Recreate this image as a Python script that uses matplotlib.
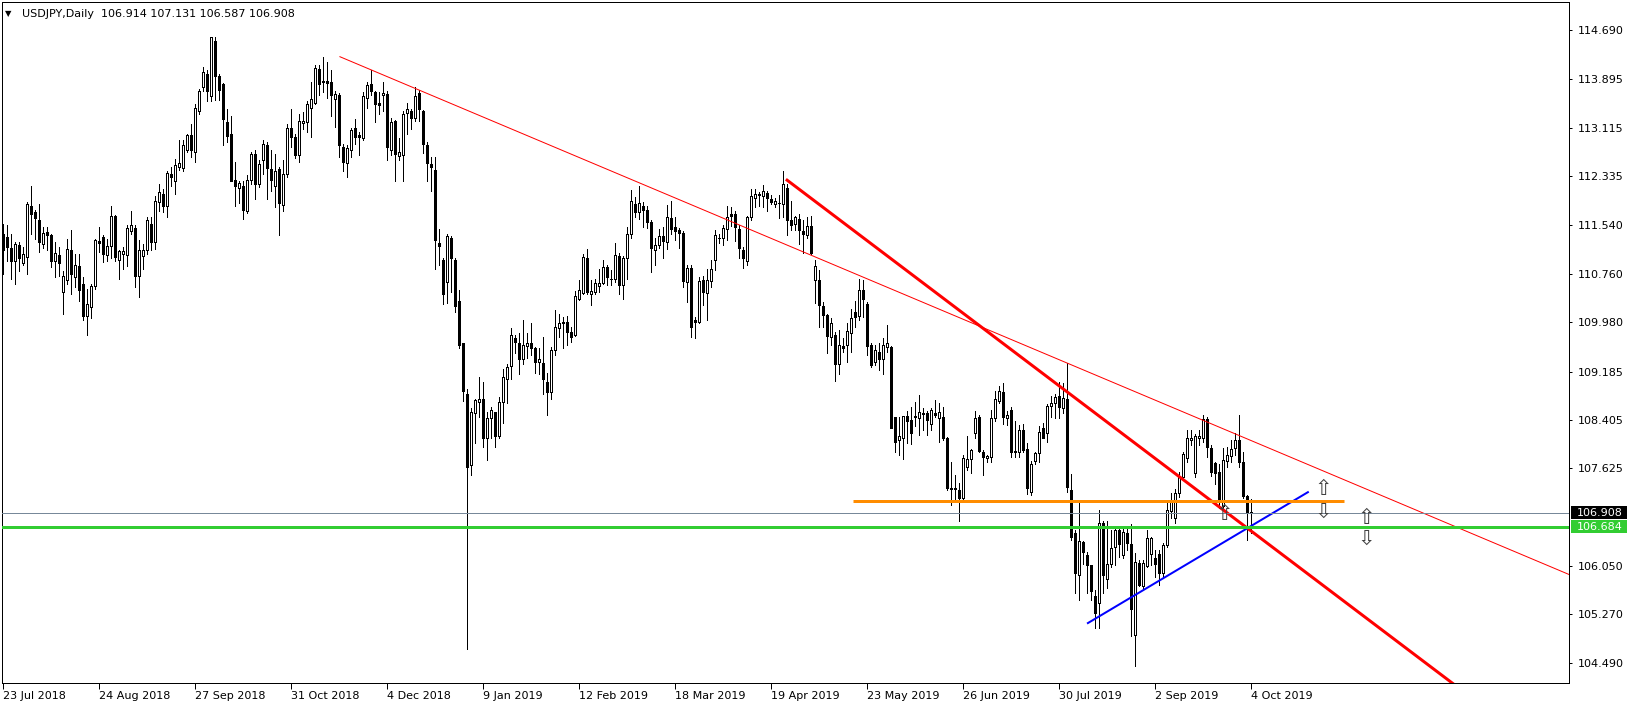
import numpy as np
import matplotlib
matplotlib.use("Agg")
import matplotlib.pyplot as plt
from matplotlib.patches import Rectangle
from matplotlib.transforms import blended_transform_factory

plt.rcParams["font.family"] = "DejaVu Sans"

# daily USDJPY bars, bar 0 = 23 Jul 2018, last bar = 4 Oct 2019
opens = [
    111.41, 111.36, 111.18, 110.97, 111.23, 110.93, 111.03, 111.85, 111.75, 111.63,
    111.24, 111.43, 111.39, 110.97, 111.07, 110.47, 110.66, 111.15, 110.71, 110.89,
    110.60, 110.08, 110.22, 110.57, 111.29, 111.35, 111.07, 111.21, 111.70, 110.99,
    111.08, 111.07, 111.45, 111.50, 110.72, 111.04, 111.14, 111.57, 111.27, 111.91,
    112.04, 111.85, 112.37, 112.25, 112.49, 112.46, 112.76, 113.00, 112.72, 113.38,
    113.77, 113.98, 113.63, 114.52, 113.95, 113.82, 113.21, 113.01, 112.27, 112.14,
    112.17, 111.78, 112.27, 112.69, 112.21, 112.59, 112.84, 112.45, 112.18, 112.45,
    111.87, 112.37, 113.11, 112.97, 112.68, 113.19, 113.21, 113.43, 113.52, 114.06,
    113.86, 113.87, 113.86, 113.58, 113.65, 112.80, 112.54, 112.76, 113.11, 112.99,
    112.95, 113.59, 113.82, 113.69, 113.51, 113.65, 113.66, 112.76, 113.23, 112.66,
    112.68, 113.35, 113.39, 113.28, 113.67, 113.39, 112.84, 112.53, 112.43, 111.25,
    110.99, 110.63, 111.33, 110.99, 110.33, 109.64, 108.83, 107.68, 108.51, 108.69,
    108.75, 108.11, 108.43, 108.53, 108.15, 108.69, 109.06, 109.28, 109.72, 109.65,
    109.38, 109.60, 109.64, 109.56, 109.34, 109.33, 109.01, 108.86, 109.53, 109.88,
    109.99, 109.99, 109.82, 109.78, 110.35, 110.45, 111.01, 110.44, 110.47, 110.57,
    110.61, 110.87, 110.67, 110.68, 111.05, 110.58, 111.01, 111.41, 111.88, 111.75,
    111.86, 111.79, 111.60, 111.15, 111.23, 111.37, 111.28, 111.66, 111.52, 111.46,
    111.42, 110.63, 110.86, 110.01, 109.99, 110.66, 110.45, 110.65, 110.98, 111.34,
    111.34, 111.49, 111.72, 111.73, 111.49, 111.15, 110.96, 111.67, 111.99, 112.03,
    112.01, 112.07, 111.97, 111.88, 111.90, 111.88, 112.15, 111.62, 111.57, 111.65,
    111.45, 111.39, 111.53, 110.66, 110.66, 110.24, 110.10, 109.74, 109.78, 109.30,
    109.59, 109.61, 109.81, 110.14, 110.08, 110.50, 110.28, 109.61, 109.34, 109.50,
    109.38, 109.58, 109.58, 108.46, 108.08, 108.12, 108.47, 108.40, 108.47, 108.43,
    108.52, 108.51, 108.34, 108.52, 108.43, 108.46, 108.11, 107.30, 107.29, 107.27,
    107.14, 107.65, 107.77, 108.19, 108.45, 107.88, 107.79, 107.81, 108.43, 108.71,
    108.86, 108.43, 108.56, 107.88, 107.89, 108.24, 107.93, 107.25, 107.75, 107.87,
    108.28, 108.19, 108.63, 108.68, 108.79, 108.59, 108.75, 107.28, 106.58, 105.91,
    106.44, 106.23, 106.07, 105.56, 105.45, 106.74, 105.84, 106.09, 106.36, 106.63,
    106.23, 106.59, 106.41, 104.94, 106.10, 105.73, 106.05, 106.24, 106.18, 106.25,
    105.93, 106.39, 106.93, 106.82, 107.22, 107.49, 107.79, 108.08, 107.55, 108.12,
    108.12, 108.42, 107.96, 107.71, 107.57, 107.01, 107.75, 107.82, 107.95, 108.08,
    107.72, 107.18, 106.914,
]
highs = [
    111.57, 111.54, 111.40, 111.27, 111.27, 111.19, 111.91, 112.18, 111.79, 111.89,
    111.51, 111.51, 111.40, 111.27, 111.19, 110.81, 111.32, 111.46, 111.08, 111.08,
    110.71, 110.52, 110.60, 111.32, 111.51, 111.38, 111.32, 111.85, 111.71, 111.15,
    111.19, 111.54, 111.78, 111.55, 111.30, 111.24, 111.67, 111.67, 112.02, 112.20,
    112.13, 112.41, 112.48, 112.61, 112.91, 112.91, 113.02, 113.17, 113.50, 113.74,
    114.09, 114.05, 114.58, 114.58, 113.98, 113.83, 113.42, 113.31, 112.56, 112.26,
    112.26, 112.36, 112.72, 112.76, 112.59, 112.91, 112.88, 112.76, 112.69, 112.48,
    112.59, 113.18, 113.42, 113.01, 113.34, 113.37, 113.54, 113.86, 114.12, 114.12,
    114.26, 114.18, 114.05, 113.71, 113.67, 112.85, 112.84, 113.11, 113.25, 113.04,
    113.69, 113.85, 114.05, 113.71, 113.69, 113.86, 113.70, 113.27, 113.24, 112.95,
    113.39, 113.51, 113.42, 113.77, 113.72, 113.40, 112.89, 112.64, 112.64, 111.48,
    111.01, 111.40, 111.37, 111.02, 110.50, 109.65, 108.91, 108.59, 108.75, 109.09,
    109.01, 108.54, 108.62, 108.54, 108.77, 109.22, 109.31, 109.89, 109.77, 109.80,
    110.01, 109.81, 109.96, 109.58, 109.56, 109.74, 109.16, 109.58, 110.17, 110.12,
    110.07, 110.08, 109.90, 110.49, 110.66, 111.08, 111.16, 110.66, 110.67, 110.84,
    110.98, 110.91, 110.82, 111.25, 111.10, 111.04, 111.52, 112.11, 112.00, 112.17,
    111.92, 111.86, 111.62, 111.34, 111.49, 111.52, 111.87, 111.93, 111.67, 111.50,
    111.45, 110.91, 110.90, 110.07, 110.71, 110.72, 110.84, 110.98, 111.46, 111.41,
    111.54, 111.85, 111.84, 111.77, 111.54, 111.19, 111.70, 112.12, 112.12, 112.08,
    112.19, 112.10, 112.03, 111.98, 112.03, 112.42, 112.21, 111.94, 111.70, 111.73,
    111.63, 111.68, 111.70, 110.99, 110.82, 110.31, 110.12, 110.04, 109.82, 109.85,
    109.72, 109.97, 110.20, 110.33, 110.68, 110.66, 110.31, 109.64, 109.61, 109.64,
    109.72, 109.94, 109.59, 108.46, 108.46, 108.47, 108.55, 108.62, 108.70, 108.80,
    108.59, 108.55, 108.59, 108.73, 108.67, 108.62, 108.13, 107.73, 107.52, 107.39,
    107.84, 108.15, 107.93, 108.55, 108.48, 107.92, 107.84, 108.56, 108.87, 108.95,
    109.00, 108.55, 108.61, 108.39, 108.32, 108.34, 108.03, 107.75, 107.89, 108.30,
    108.36, 108.66, 108.79, 108.83, 109.02, 109.00, 109.33, 107.54, 106.63, 107.06,
    106.46, 106.27, 106.07, 105.66, 106.95, 106.77, 106.77, 106.63, 106.66, 106.69,
    106.64, 106.69, 106.72, 106.26, 106.15, 106.15, 106.63, 106.52, 106.31, 106.31,
    106.42, 107.11, 107.22, 107.29, 107.57, 107.88, 108.25, 108.25, 108.17, 108.25,
    108.48, 108.46, 108.00, 107.73, 107.70, 107.95, 107.97, 108.08, 108.19, 108.48,
    107.89, 107.20, 107.131,
]
lows = [
    110.76, 110.97, 110.68, 110.60, 110.81, 110.90, 110.76, 111.40, 111.32, 111.11,
    111.18, 111.14, 110.87, 110.71, 110.73, 110.12, 110.60, 110.44, 110.55, 110.33,
    110.01, 109.77, 110.04, 110.52, 111.11, 110.95, 110.97, 111.02, 110.97, 110.68,
    110.84, 110.89, 111.40, 110.55, 110.38, 110.84, 111.08, 111.14, 111.16, 111.77,
    111.75, 111.67, 112.17, 112.05, 112.44, 112.42, 112.72, 112.65, 112.57, 113.34,
    113.71, 113.55, 113.55, 113.57, 113.57, 112.83, 112.88, 112.26, 111.85, 111.90,
    111.64, 111.74, 112.21, 111.97, 112.16, 112.37, 111.97, 112.10, 111.83, 111.38,
    111.78, 112.32, 112.81, 112.62, 112.57, 113.10, 113.05, 112.96, 113.50, 113.65,
    113.69, 113.59, 113.31, 113.12, 112.65, 112.42, 112.32, 112.65, 112.85, 112.67,
    112.91, 113.43, 113.65, 113.21, 113.33, 113.39, 112.59, 112.67, 112.25, 112.59,
    112.25, 113.01, 113.10, 113.22, 113.23, 112.70, 112.26, 112.10, 110.83, 110.90,
    110.28, 110.29, 110.47, 110.15, 109.56, 108.71, 104.72, 107.52, 108.03, 108.46,
    107.97, 107.76, 108.12, 107.97, 108.11, 108.36, 108.68, 109.06, 109.48, 109.15,
    109.31, 109.40, 109.45, 109.16, 109.14, 108.83, 108.48, 108.74, 109.45, 109.74,
    109.57, 109.61, 109.66, 109.75, 110.34, 110.43, 110.43, 110.25, 110.44, 110.47,
    110.60, 110.58, 110.58, 110.63, 110.43, 110.36, 110.68, 111.34, 111.67, 111.65,
    111.52, 111.50, 110.79, 110.90, 111.17, 111.02, 111.16, 111.41, 111.31, 111.18,
    110.55, 110.31, 109.74, 109.72, 109.96, 110.25, 110.01, 110.55, 110.82, 111.26,
    111.22, 111.30, 111.53, 111.29, 111.01, 110.86, 110.90, 111.62, 111.84, 111.86,
    111.84, 111.77, 111.89, 111.84, 111.66, 111.68, 111.38, 111.46, 111.46, 111.24,
    111.09, 111.34, 111.08, 110.29, 109.90, 109.90, 109.48, 109.61, 109.03, 109.15,
    109.50, 109.34, 109.50, 109.90, 110.01, 110.07, 109.45, 109.26, 109.29, 109.21,
    109.15, 109.50, 108.27, 107.89, 107.84, 107.78, 108.03, 108.02, 108.30, 108.16,
    108.25, 108.16, 108.25, 108.46, 108.05, 108.08, 107.27, 107.03, 107.11, 106.77,
    107.11, 107.60, 107.55, 108.11, 107.89, 107.52, 107.72, 107.73, 108.38, 108.68,
    108.34, 108.32, 107.81, 107.81, 107.81, 107.88, 107.21, 107.20, 107.70, 107.73,
    108.11, 108.05, 108.46, 108.43, 108.43, 108.51, 107.25, 106.47, 105.61, 105.50,
    106.09, 105.61, 105.50, 105.05, 105.05, 105.61, 105.69, 106.03, 106.07, 106.20,
    106.18, 106.31, 104.92, 104.43, 105.72, 105.69, 106.04, 106.07, 105.88, 105.74,
    105.88, 106.36, 106.82, 106.74, 107.17, 107.46, 107.73, 108.00, 107.49, 108.00,
    108.05, 107.80, 107.50, 107.38, 106.98, 106.98, 107.65, 107.73, 107.84, 107.65,
    107.15, 106.47, 106.587,
]
closes = [
    111.14, 111.20, 110.96, 111.24, 111.02, 111.08, 111.89, 111.73, 111.66, 111.27,
    111.42, 111.39, 110.97, 111.10, 110.94, 110.73, 111.16, 110.76, 110.91, 110.50,
    110.08, 110.28, 110.57, 111.31, 111.25, 111.08, 111.21, 111.70, 111.03, 111.12,
    111.12, 111.50, 111.55, 110.73, 111.14, 111.14, 111.62, 111.27, 111.94, 112.08,
    111.86, 112.39, 112.32, 112.52, 112.55, 112.84, 113.00, 112.75, 113.43, 113.71,
    114.02, 113.70, 114.58, 113.95, 113.73, 113.25, 112.98, 112.26, 112.17, 112.23,
    111.79, 112.27, 112.69, 112.21, 112.53, 112.85, 112.47, 112.27, 112.41, 111.90,
    112.37, 113.11, 112.96, 112.67, 113.23, 113.23, 113.49, 113.58, 114.08, 113.82,
    113.87, 113.83, 113.65, 113.66, 112.83, 112.57, 112.79, 113.08, 112.96, 112.97,
    113.63, 113.81, 113.70, 113.50, 113.48, 113.68, 112.80, 113.21, 112.69, 112.72,
    113.34, 113.42, 113.28, 113.63, 113.41, 112.85, 112.54, 112.49, 111.30, 111.21,
    110.44, 111.37, 111.01, 110.24, 109.62, 108.87, 107.64, 108.53, 108.72, 108.74,
    108.12, 108.43, 108.57, 108.14, 108.70, 109.10, 109.25, 109.78, 109.66, 109.38,
    109.62, 109.64, 109.56, 109.34, 109.38, 109.06, 108.86, 109.54, 109.90, 109.97,
    109.97, 109.82, 109.74, 110.40, 110.50, 111.03, 110.47, 110.48, 110.62, 110.62,
    110.87, 110.71, 110.67, 111.07, 110.58, 111.01, 111.41, 111.94, 111.76, 111.90,
    111.79, 111.60, 111.18, 111.23, 111.37, 111.29, 111.68, 111.48, 111.45, 111.42,
    110.65, 110.86, 109.90, 109.99, 110.64, 110.47, 110.66, 110.84, 111.38, 111.33,
    111.50, 111.68, 111.69, 111.52, 111.17, 111.02, 111.68, 112.01, 112.05, 112.05,
    112.09, 111.98, 111.92, 111.94, 111.90, 112.21, 111.62, 111.54, 111.67, 111.46,
    111.41, 111.53, 111.10, 110.88, 110.25, 110.10, 109.76, 109.96, 109.31, 109.62,
    109.57, 109.84, 110.05, 110.07, 110.50, 110.35, 109.60, 109.29, 109.53, 109.38,
    109.61, 109.64, 108.28, 108.05, 108.14, 108.47, 108.39, 108.19, 108.45, 108.53,
    108.50, 108.40, 108.56, 108.49, 108.54, 108.11, 107.30, 107.29, 107.30, 107.14,
    107.79, 107.77, 107.92, 108.43, 107.91, 107.80, 107.82, 108.43, 108.74, 108.87,
    108.46, 108.49, 107.89, 107.90, 108.24, 107.92, 107.30, 107.70, 107.87, 108.21,
    108.11, 108.63, 108.68, 108.78, 108.61, 108.76, 107.32, 106.51, 105.93, 106.45,
    106.27, 106.07, 105.64, 105.29, 106.74, 105.91, 106.09, 106.34, 106.63, 106.40,
    106.60, 106.42, 105.35, 106.12, 105.75, 106.10, 106.50, 106.50, 106.09, 105.93,
    106.39, 106.95, 107.11, 107.22, 107.50, 107.85, 108.11, 108.11, 108.15, 108.15,
    108.42, 107.97, 107.56, 107.55, 107.09, 107.76, 107.84, 107.93, 108.08, 107.72,
    107.18, 106.90, 106.908,
]

# time scale labels, one every 24 bars
date_labels = ["23 Jul 2018", "24 Aug 2018", "27 Sep 2018", "31 Oct 2018", "4 Dec 2018",
               "9 Jan 2019", "12 Feb 2019", "18 Mar 2019", "19 Apr 2019", "23 May 2019",
               "26 Jun 2019", "30 Jul 2019", "2 Sep 2019", "4 Oct 2019"]
label_step = 24

price_ticks = [114.690, 113.895, 113.115, 112.335, 111.540, 110.760, 109.980,
               109.185, 108.405, 107.625, 106.050, 105.270, 104.490]

# drawn objects: (bar, price) anchors
thin_trend = [(84.1, 114.26), (391.5, 105.91)]
thick_trend = [(195.9, 112.27), (314.25, 106.50)]
blue_trend = [(271.1, 105.13), (326.1, 107.24)]
orange_level = 107.10
orange_span = (212.3, 335.25)
green_level = 106.684
bid_price = closes[-1]
arrows_up = [(329.9, 107.284), (340.6, 106.831), (305.2, 106.881)]
arrows_down = [(329.9, 106.931), (340.6, 106.495)]

W, H = 1633, 707
PX = 72 / 100  # one pixel in points
fig = plt.figure(figsize=(W / 100, H / 100), dpi=100)
ax = fig.add_axes([2.5 / W, (H - 683) / H, (1569 - 2.5) / W, (683 - 1.5) / H])
# 4 px per bar, bar centres on pixel centres
ax.set_xlim(-0.25, 391.375)
ax.set_ylim(104.164, 115.150)

o = np.array(opens)
h = np.array(highs)
l = np.array(lows)
c = np.array(closes)
x = np.arange(len(c))
up = c >= o
body_lo = np.minimum(o, c)
body_h = np.abs(c - o)

ax.vlines(x, l, h, color="black", lw=PX, antialiased=False, zorder=2)
ax.bar(x[up], body_h[up], bottom=body_lo[up], width=0.5, color="white",
       edgecolor="black", lw=PX, antialiased=False, zorder=3)
ax.bar(x[~up], body_h[~up], bottom=body_lo[~up], width=0.5, color="black",
       edgecolor="black", lw=PX, antialiased=False, zorder=3)


def ray(pts, x_end=420):
    (x1, y1), (x2, y2) = pts
    k = (y2 - y1) / (x2 - x1)
    return [x1, x_end], [y1, y1 + k * (x_end - x1)]


ax.plot(*ray(thin_trend), color="red", lw=PX, zorder=4)
ax.plot(*ray(thick_trend), color="red", lw=3 * PX, zorder=4)
ax.plot([p[0] for p in blue_trend], [p[1] for p in blue_trend], color="blue", lw=2 * PX, zorder=4)
ax.hlines(orange_level, orange_span[0], orange_span[1], color="#FF8C00", lw=3 * PX, zorder=4)
ax.axhline(green_level, color="#32CD32", lw=3 * PX, zorder=4)
ax.axhline(bid_price, color="#778899", lw=PX, zorder=4)

for xb, p in arrows_up:
    ax.text(xb, p, "\u21e7", ha="center", va="center", fontsize=15, color="#404040", zorder=6)
for xb, p in arrows_down:
    ax.text(xb, p, "\u21e9", ha="center", va="center", fontsize=15, color="#404040", zorder=6)

# axes
for s in ax.spines.values():
    s.set_linewidth(PX)
ax.yaxis.tick_right()
ax.set_yticks(price_ticks)
ax.set_yticklabels([f"{v:.3f}" for v in price_ticks])
ax.tick_params(axis="y", direction="out", length=2.5, width=PX, pad=3.5, labelsize=8)
ax.set_xticks(np.arange(len(date_labels)) * label_step)
ax.set_xticklabels(date_labels, ha="left")
ax.tick_params(axis="x", direction="out", length=4, width=PX, pad=2, labelsize=8)

# price boxes on the right scale
tr = blended_transform_factory(ax.transAxes, ax.transData)
aw = 1566.5
for val, col in [(bid_price, "black"), (green_level, "#32CD32")]:
    ax.add_patch(Rectangle((1 + 2 / aw, val - 0.102), 56 / aw, 0.204, transform=tr,
                           facecolor=col, edgecolor="none", clip_on=False, zorder=5))
    ax.text(1 + 8 / aw, val, f"{val:.3f}", transform=tr, color="white", fontsize=8,
            va="center", ha="left", clip_on=False, zorder=6)

# chart header
fig.text(5 / W, 1 - 13.5 / H, "\u25bc", fontsize=6, va="center", ha="left")
fig.text(22.5 / W, 1 - 17.3 / H,
         f"USDJPY,Daily  {opens[-1]:.3f} {highs[-1]:.3f} {lows[-1]:.3f} {closes[-1]:.3f}",
         fontsize=8, va="baseline", ha="left")

fig.savefig("out.png", dpi=100)
